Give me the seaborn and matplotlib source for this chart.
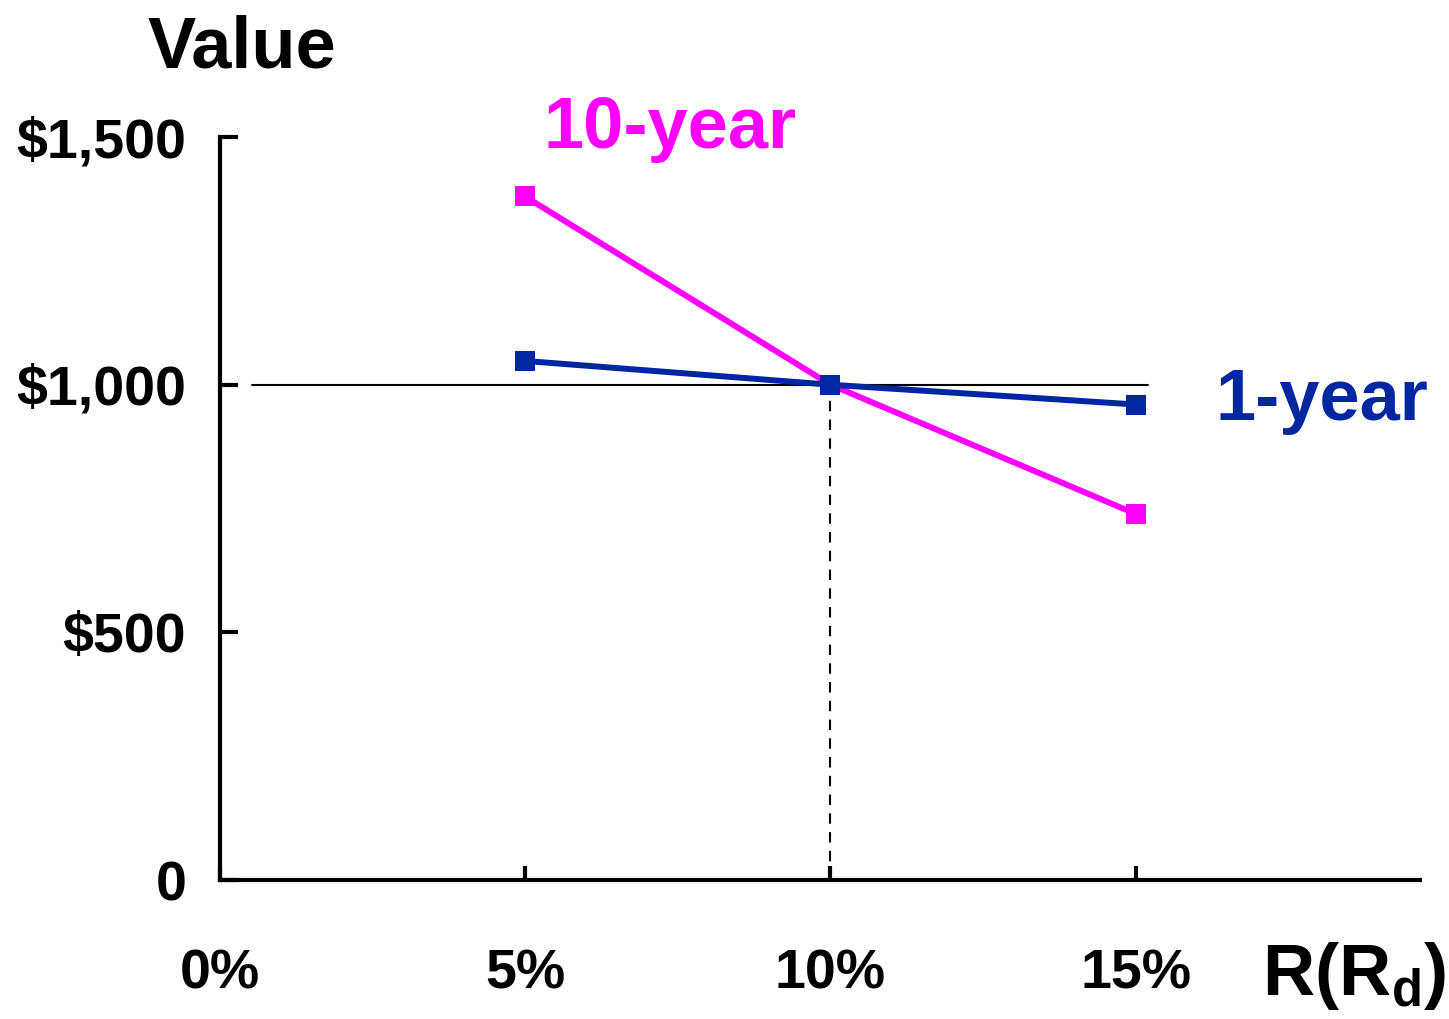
import matplotlib
matplotlib.use("Agg")
import matplotlib.pyplot as plt
import seaborn as sns
import pandas as pd

# chart data
rates = [5, 10, 15]
ten_year = [1380, 1000, 739]
one_year = [1048, 1000, 960]
series_names = ["10-year", "1-year"]
y_ticks = [0, 500, 1000, 1500]
y_tick_labels = ["0", "$500", "$1,000", "$1,500"]
x_ticks = [0, 5, 10, 15]
x_tick_labels = ["0%", "5%", "10%", "15%"]

magenta = "#FF00FF"
blue = "#0026A0"

data_df = pd.DataFrame({
    "rate": rates * 2,
    "value": ten_year + one_year,
    "bond": ["10-year"] * 3 + ["1-year"] * 3,
})

sns.set_style("white")
plt.rcParams["font.family"] = ["Liberation Sans", "DejaVu Sans"]
plt.rcParams["font.weight"] = "bold"
plt.rcParams["text.color"] = "black"
plt.rcParams["xtick.color"] = "black"
plt.rcParams["ytick.color"] = "black"
plt.rcParams["axes.labelcolor"] = "black"
plt.rcParams["mathtext.fontset"] = "custom"
plt.rcParams["mathtext.rm"] = "Liberation Sans:bold"

fig = plt.figure(figsize=(14.49, 10.19), dpi=100)
ax = fig.add_axes([0.1515, 0.1364, 0.8285, 0.7291])

# reference lines
ax.plot([0.53, 15.2], [1000, 1000], color="black", lw=1.5, zorder=1)
ax.plot([10, 10], [0, 1000], color="black", lw=1.5, ls=(0, (5, 4)), zorder=1)

sns.lineplot(data=data_df, x="rate", y="value", hue="bond",
             hue_order=series_names, palette=[magenta, blue],
             style="bond", markers=["s", "s"], dashes=False,
             markersize=15, markeredgewidth=0, linewidth=4.3,
             legend=False, ax=ax, zorder=3)

ax.set_xlim(0, 19.65)
ax.set_ylim(0, 1500)
ax.set_xticks(x_ticks)
ax.set_xticklabels(x_tick_labels)
ax.set_yticks(y_ticks)
ax.set_yticklabels(y_tick_labels)
ax.set_xlabel("")
ax.set_ylabel("")

for side in ["top", "right"]:
    ax.spines[side].set_visible(False)
for side in ["left", "bottom"]:
    ax.spines[side].set_linewidth(3)
    ax.spines[side].set_color("black")

ax.tick_params(axis="y", direction="in", length=13, width=3, pad=24,
               labelsize=40, left=True, colors="black")
ax.tick_params(axis="x", direction="in", length=10, width=3, pad=49,
               labelsize=40, bottom=True, colors="black")
for lab in ax.get_xticklabels() + ax.get_yticklabels():
    lab.set_fontweight("bold")

# text labels
fig.text(148 / 1449, 1 - 68 / 1019, "Value", fontsize=52, fontweight="bold",
         color="black", ha="left", va="baseline")
fig.text(1262 / 1449, 1 - 995 / 1019, r"R(R$_\mathrm{d}$)", fontsize=52,
         fontweight="bold", color="black", ha="left", va="baseline")
fig.text(543 / 1449, 1 - 148 / 1019, "10-year", fontsize=52,
         fontweight="bold", color=magenta, ha="left", va="baseline")
fig.text(1215 / 1449, 1 - 420 / 1019, "1-year", fontsize=52,
         fontweight="bold", color=blue, ha="left", va="baseline")

fig.savefig("out.png", dpi=100)
